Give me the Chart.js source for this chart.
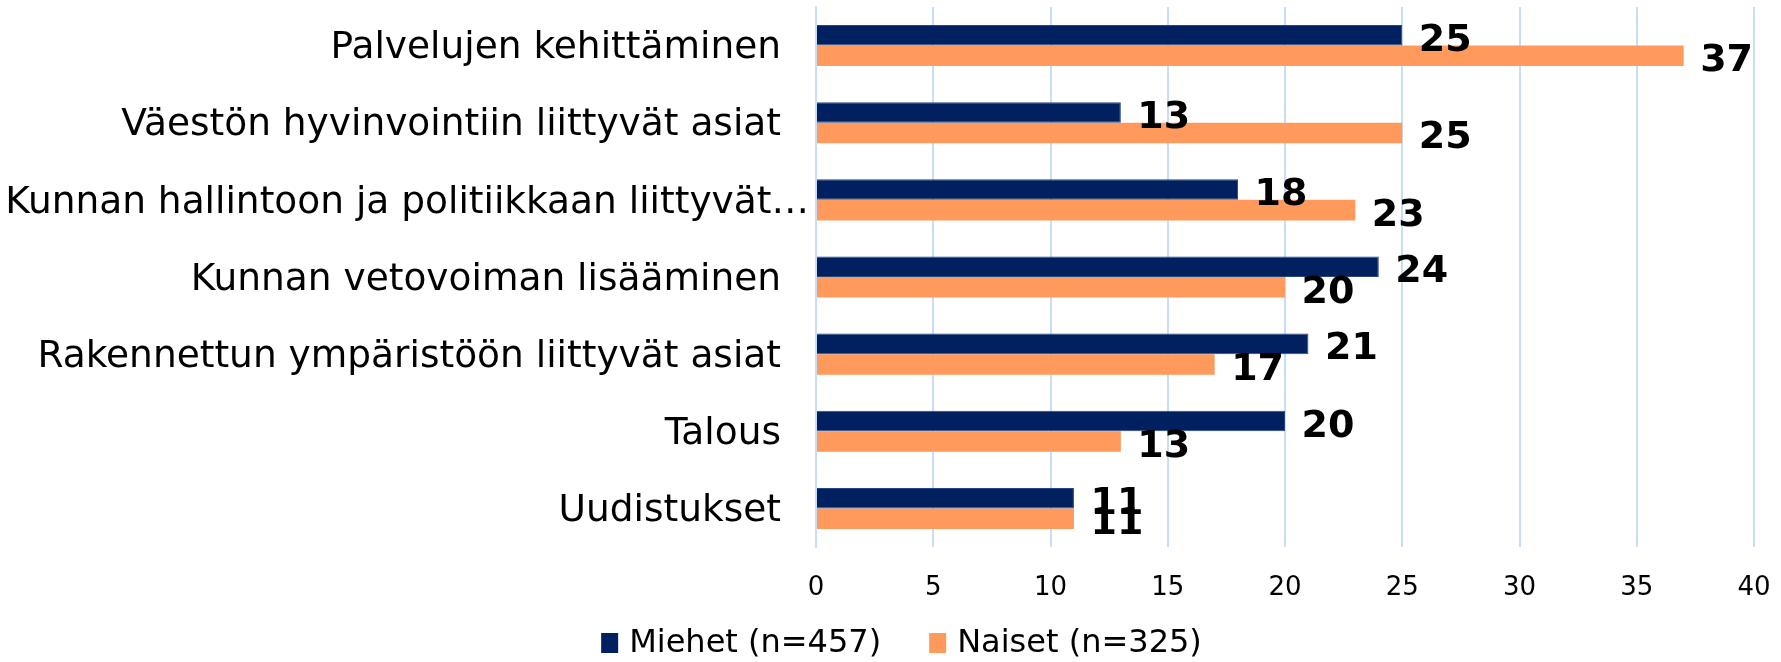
<!DOCTYPE html>
<html>
<head>
<meta charset="utf-8">
<script src="https://cdn.jsdelivr.net/npm/chart.js@4/dist/chart.umd.min.js"></script>
<style>
  html, body { margin: 0; padding: 0; background: #ffffff; }
  #wrap { width: 1781px; height: 662px; position: relative; }
</style>
</head>
<body>
<div id="wrap"><canvas id="c" width="1781" height="662"></canvas></div>
<script>
const categories = [
  "Palvelujen kehittäminen",
  "Väestön hyvinvointiin liittyvät asiat",
  "Kunnan hallintoon ja politiikkaan liittyvät…",
  "Kunnan vetovoiman lisääminen",
  "Rakennettun ympäristöön liittyvät asiat",
  "Talous",
  "Uudistukset"
];
const miehetValues = [25, 13, 18, 24, 21, 20, 11];
const naisetValues = [37, 25, 23, 20, 17, 13, 11];
const seriesNames = ["Miehet (n=457)", "Naiset (n=325)"];
const seriesColors = ["#002060", "#FF9A5C"];
const xTicks = [0, 5, 10, 15, 20, 25, 30, 35, 40];

const FONT = "'DejaVu Sans', Verdana, sans-serif";
const GRID = "#C8DEF8";

// value labels drawn at the end of each bar element
const valueLabels = {
  id: 'valueLabels',
  afterDatasetsDraw(chart) {
    const ctx = chart.ctx;
    ctx.save();
    ctx.font = "bold 38px " + FONT;
    ctx.fillStyle = "#000000";
    ctx.textAlign = "left";
    ctx.textBaseline = "alphabetic";
    chart.data.datasets.forEach((ds, di) => {
      const meta = chart.getDatasetMeta(di);
      meta.data.forEach((bar, i) => {
        ctx.fillText(String(ds.data[i]), bar.x + 16.5, bar.y + 15.5);
      });
    });
    ctx.restore();
  }
};

// category labels placed at the y scale's tick positions
const categoryLabels = {
  id: 'categoryLabels',
  afterDraw(chart) {
    const ctx = chart.ctx;
    const y = chart.scales.y;
    ctx.save();
    ctx.font = "37.5px " + FONT;
    ctx.fillStyle = "#000000";
    ctx.textAlign = "right";
    ctx.textBaseline = "middle";
    chart.data.labels.forEach((lab, i) => {
      const truncated = lab.endsWith("…");
      const xr = y.right - (truncated ? 7 : 35);
      ctx.fillText(lab, xr, y.getPixelForTick(i) + 3);
    });
    ctx.restore();
  }
};

// legend drawn below the axis, one entry per dataset
const bottomLegend = {
  id: 'bottomLegend',
  afterDraw(chart) {
    const ctx = chart.ctx;
    ctx.save();
    ctx.font = "32px " + FONT;
    ctx.textAlign = "left";
    ctx.textBaseline = "middle";
    const boxW = 17, boxH = 20, boxGap = 11, itemGap = 48;
    const items = chart.data.datasets.map(ds => ({ text: ds.label, color: ds.backgroundColor, w: ctx.measureText(ds.label).width }));
    let total = 0;
    items.forEach((it, i) => { total += boxW + boxGap + it.w + (i < items.length - 1 ? itemGap : 0); });
    let x = chart.width / 2 + 11 - total / 2;
    const cy = 643;
    items.forEach(it => {
      ctx.fillStyle = it.color;
      ctx.fillRect(x, cy - boxH / 2, boxW, boxH);
      x += boxW + boxGap;
      ctx.fillStyle = "#000000";
      ctx.fillText(it.text, x, cy + 1);
      x += it.w + itemGap;
    });
    ctx.restore();
  }
};

new Chart(document.getElementById('c'), {
  type: 'bar',
  data: {
    labels: categories,
    datasets: [
      { label: seriesNames[0], data: miehetValues, backgroundColor: seriesColors[0], borderColor: "#27457F", borderWidth: 1, borderSkipped: 'start' },
      { label: seriesNames[1], data: naisetValues, backgroundColor: seriesColors[1], borderWidth: 0 }
    ]
  },
  options: {
    indexAxis: 'y',
    responsive: false,
    animation: false,
    devicePixelRatio: 1,
    layout: { padding: { top: 7, right: 27, left: 0, bottom: 55 } },
    datasets: { bar: { barPercentage: 1.0, categoryPercentage: 0.532 } },
    scales: {
      x: {
        min: 0, max: 40,
        afterBuildTicks(scale) { scale.ticks = xTicks.map(v => ({ value: v })); },
        afterFit(scale) { scale.height = 60; scale.paddingLeft = 0; scale.paddingRight = 0; },
        grid: { color: GRID, lineWidth: 2, drawTicks: false },
        border: { display: false },
        ticks: { color: "#000000", padding: 26, font: { family: FONT, size: 26 } }
      },
      y: {
        afterFit(scale) { scale.width = 816; scale.paddingTop = 0; scale.paddingBottom = 0; },
        grid: { display: false, drawTicks: false },
        border: { display: true, color: GRID, width: 2 },
        ticks: { display: false }
      }
    },
    plugins: {
      legend: { display: false },
      tooltip: { enabled: false }
    }
  },
  plugins: [valueLabels, categoryLabels, bottomLegend]
});
</script>
</body>
</html>
